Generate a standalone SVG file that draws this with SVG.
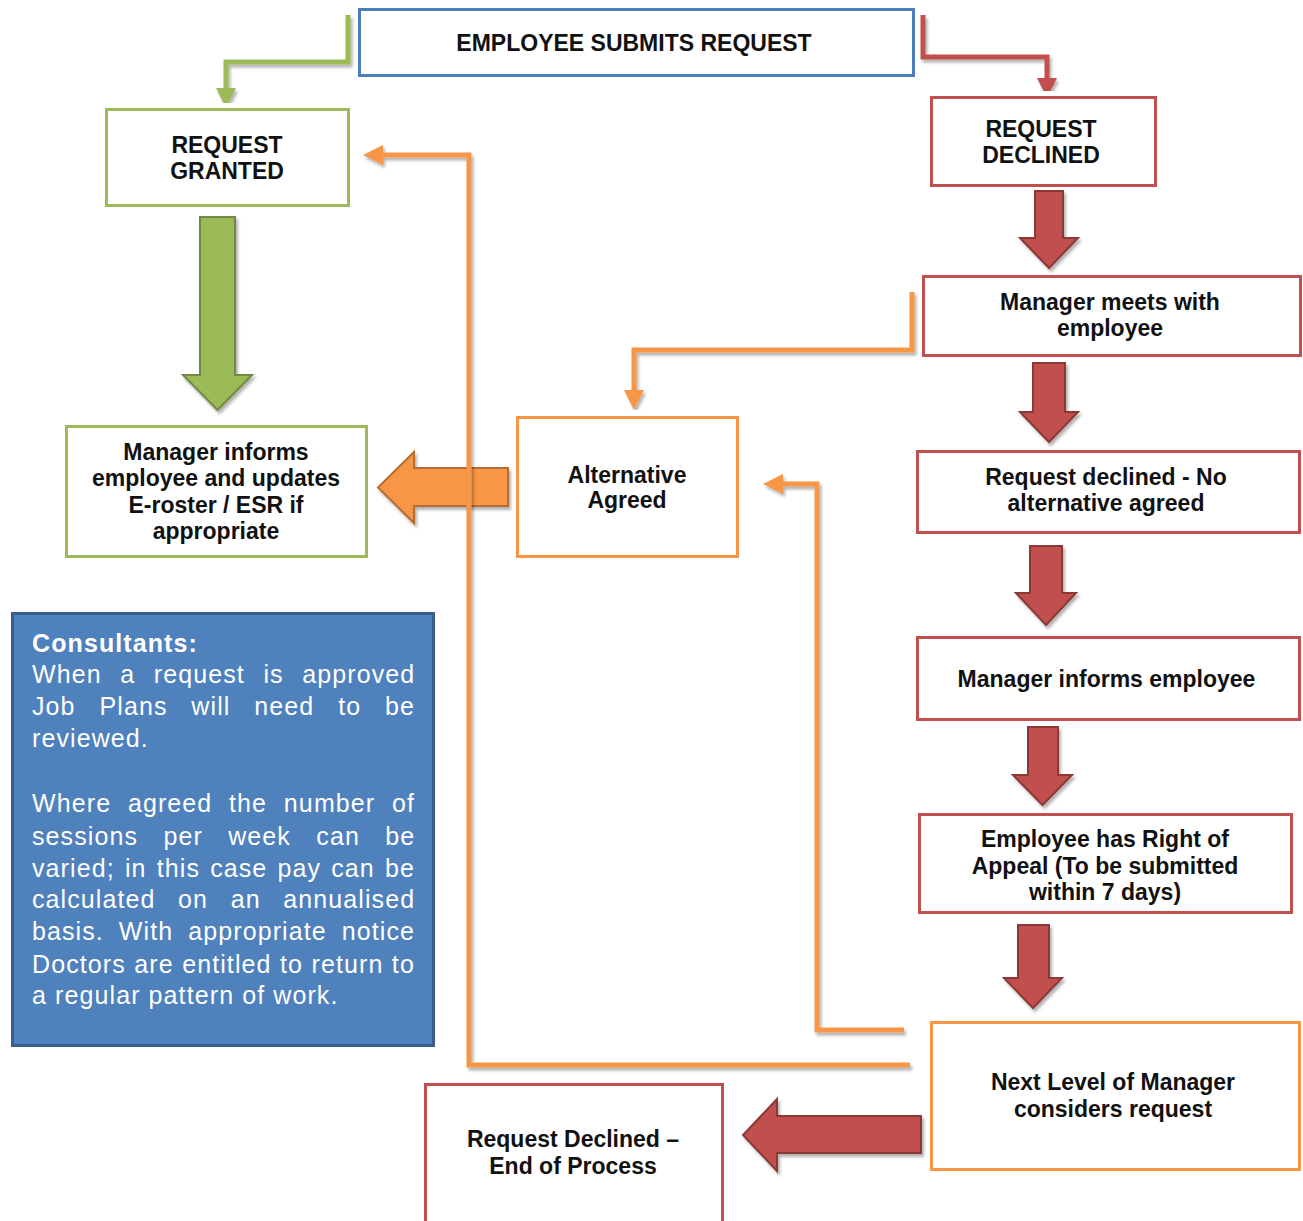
<svg xmlns="http://www.w3.org/2000/svg" width="1303" height="1221" viewBox="0 0 1303 1221">
<defs>
<style>
.box{fill:#ffffff;stroke-width:3}
.g{stroke:#9bbb59}
.r{stroke:#c0504d}
.o{stroke:#f79646}
.b{stroke:#4a7ebb}
.lbl{font-family:"Liberation Sans",Arial,sans-serif;font-weight:bold;font-size:23px;fill:#111111;text-anchor:middle}
.line{fill:none;stroke-width:5;stroke-linejoin:miter;filter:url(#sh)}
.blk-r{fill:#c0504d;stroke:#8c3836;stroke-width:2;filter:url(#sh)}
.blk-g{fill:#9bbb59;stroke:#71893f;stroke-width:2;filter:url(#sh)}
.blk-o{fill:#f79646;stroke:#b66d31;stroke-width:2;filter:url(#sh)}
.note{font-family:"Liberation Sans",Arial,sans-serif;font-size:25px;fill:#ffffff;letter-spacing:1.1px}
</style>
<filter id="sh" x="-20%" y="-20%" width="140%" height="140%">
<feDropShadow dx="2" dy="3" stdDeviation="1.8" flood-color="#000000" flood-opacity="0.3"/>
</filter>
<marker id="ah-g" markerUnits="userSpaceOnUse" viewBox="0 0 20 20" markerWidth="20" markerHeight="20" refX="0" refY="10" orient="auto">
<path d="M0,0 L20,10 L0,20 z" fill="#9bbb59"/>
</marker>
<marker id="ah-r" markerUnits="userSpaceOnUse" viewBox="0 0 20 20" markerWidth="20" markerHeight="20" refX="0" refY="10" orient="auto">
<path d="M0,0 L20,10 L0,20 z" fill="#c0504d"/>
</marker>
<marker id="ah-o" markerUnits="userSpaceOnUse" viewBox="0 0 20 20" markerWidth="20" markerHeight="20" refX="0" refY="10" orient="auto">
<path d="M0,0 L20,10 L0,20 z" fill="#f79646"/>
</marker>
</defs>
<rect x="0" y="0" width="1303" height="1221" fill="#ffffff"/>

<g id="connectors">
<polygon class="blk-g" points="200,217 235,217 235,375 252,375 217.5,410 183,375 200,375"/>
<polygon class="blk-r" points="1035,191 1063,191 1063,238 1078,238 1049,268 1020,238 1035,238"/>
<polygon class="blk-r" points="1033,363 1065,363 1065,412 1078,412 1049,442 1020,412 1033,412"/>
<polygon class="blk-r" points="1030,546 1062,546 1062,593 1076,593 1046,625 1016,593 1030,593"/>
<polygon class="blk-r" points="1028,727 1058,727 1058,775 1072,775 1042.5,805 1013,775 1028,775"/>
<polygon class="blk-r" points="1018,925 1049,925 1049,978 1062,978 1033,1008 1004,978 1018,978"/>
<polygon class="blk-r" points="921,1116 921,1153 777,1153 777,1171 743,1135 777,1099 777,1116"/>
<polygon class="blk-o" points="508,468 508,506 414,506 414,523 378,487.5 414,452 414,468"/>
<path class="line" stroke="#9bbb59" d="M348,15 V62 H226 V88" marker-end="url(#ah-g)"/>
<path class="line" stroke="#c0504d" d="M923,15 V57 H1047 V78" marker-end="url(#ah-r)"/>
<path class="line" stroke="#f79646" d="M912,292 V350 H634 V390" marker-end="url(#ah-o)"/>
<path class="line" stroke="#f79646" d="M910,1065 H469 V155 H383" marker-end="url(#ah-o)"/>
<path class="line" stroke="#f79646" d="M904,1030 H817 V484 H783" marker-end="url(#ah-o)"/>
</g>

<g id="employee-submits-request">
<rect class="box b" x="359.5" y="9.5" width="554" height="66"/>
<text class="lbl" x="634" y="51">EMPLOYEE SUBMITS REQUEST</text>
</g>

<g id="request-granted">
<rect class="box g" x="106.5" y="109.5" width="242" height="96"/>
<text class="lbl" x="227" y="153">REQUEST</text>
<text class="lbl" x="227" y="179">GRANTED</text>
</g>

<g id="request-declined">
<rect class="box r" x="931.5" y="97.5" width="224" height="88"/>
<text class="lbl" x="1041" y="137">REQUEST</text>
<text class="lbl" x="1041" y="163">DECLINED</text>
</g>

<g id="manager-meets">
<rect class="box r" x="923.5" y="276.5" width="377" height="79"/>
<text class="lbl" x="1110" y="310">Manager meets with</text>
<text class="lbl" x="1110" y="336">employee</text>
</g>

<g id="manager-informs-updates">
<rect class="box g" x="66.5" y="426.5" width="300" height="130"/>
<text class="lbl" x="216" y="460">Manager informs</text>
<text class="lbl" x="216" y="486">employee and updates</text>
<text class="lbl" x="216" y="513">E-roster / ESR if</text>
<text class="lbl" x="216" y="539">appropriate</text>
</g>

<g id="alternative-agreed">
<rect class="box o" x="517.5" y="417.5" width="220" height="139"/>
<text class="lbl" x="627" y="483">Alternative</text>
<text class="lbl" x="627" y="508">Agreed</text>
</g>

<g id="request-declined-no-alternative">
<rect class="box r" x="917.5" y="451.5" width="382" height="81"/>
<text class="lbl" x="1106" y="485">Request declined - No</text>
<text class="lbl" x="1106" y="511">alternative agreed</text>
</g>

<g id="manager-informs-employee">
<rect class="box r" x="917.5" y="637.5" width="382" height="82"/>
<text class="lbl" x="1106.5" y="687">Manager informs employee</text>
</g>

<g id="right-of-appeal">
<rect class="box r" x="919.5" y="814.5" width="372" height="98"/>
<text class="lbl" x="1105" y="847">Employee has Right of</text>
<text class="lbl" x="1105" y="874">Appeal (To be submitted</text>
<text class="lbl" x="1105" y="900">within 7 days)</text>
</g>

<g id="next-level-manager">
<rect class="box o" x="931.5" y="1022.5" width="368" height="147"/>
<text class="lbl" x="1113" y="1090">Next Level of Manager</text>
<text class="lbl" x="1113" y="1117">considers request</text>
</g>

<g id="request-declined-end">
<rect class="box r" x="425.5" y="1084.5" width="297" height="150"/>
<text class="lbl" x="573" y="1147">Request Declined –</text>
<text class="lbl" x="573" y="1174">End of Process</text>
</g>

<g id="consultants-note">
<rect x="12.5" y="613.5" width="421" height="432" fill="#4f81bd" stroke="#385d8a" stroke-width="3"/>
<text class="note" x="32" y="652" font-weight="bold">Consultants:</text>
<text class="note" x="32" y="683" word-spacing="10.5">When a request is approved</text>
<text class="note" x="32" y="715" word-spacing="15.8">Job Plans will need to be</text>
<text class="note" x="32" y="747">reviewed.</text>
<text class="note" x="32" y="812" word-spacing="8.7">Where agreed the number of</text>
<text class="note" x="32" y="845" word-spacing="17.3">sessions per week can be</text>
<text class="note" x="32" y="877" word-spacing="2.1">varied; in this case pay can be</text>
<text class="note" x="32" y="908" word-spacing="14.5">calculated on an annualised</text>
<text class="note" x="32" y="940" word-spacing="6.9">basis. With appropriate notice</text>
<text class="note" x="32" y="973" word-spacing="0.4">Doctors are entitled to return to</text>
<text class="note" x="32" y="1004">a regular pattern of work.</text>
</g>
</svg>
